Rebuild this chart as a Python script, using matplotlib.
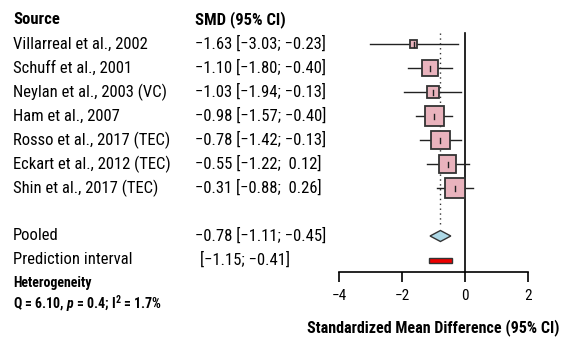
import matplotlib
matplotlib.use("Agg")
import matplotlib.pyplot as plt
from matplotlib.patches import Polygon, Rectangle
import numpy as np

FONT = ['Roboto Condensed', 'DejaVu Sans']
plt.rcParams['font.family'] = FONT
plt.rcParams['mathtext.fontset'] = 'custom'
plt.rcParams['mathtext.rm'] = 'Roboto Condensed:bold'
plt.rcParams['mathtext.it'] = 'Roboto Condensed:italic:bold'
plt.rcParams['mathtext.bf'] = 'Roboto Condensed:bold'

studies = ["Villarreal et al., 2002", "Schuff et al., 2001", "Neylan et al., 2003 (VC)",
           "Ham et al., 2007", "Rosso et al., 2017 (TEC)", "Eckart et al., 2012 (TEC)",
           "Shin et al., 2017 (TEC)"]
smd = [-1.63, -1.10, -1.03, -0.98, -0.78, -0.55, -0.31]
lower = [-3.03, -1.80, -1.94, -1.57, -1.42, -1.22, -0.88]
upper = [-0.23, -0.40, -0.13, -0.40, -0.13, 0.12, 0.26]
weights = [2.7, 14.0, 7.9, 19.8, 17.8, 15.9, 21.9]
pooled = (-0.78, -1.11, -0.45)
pred = (-1.15, -0.41)
xticks = [-4, -2, 0, 2]

W, H = 561, 339
fig = plt.figure(figsize=(W / 100, H / 100), dpi=100)
ax = fig.add_axes([0, 0, 1, 1])
# pixel mapping: x=-4 at 339px, x=2 at 528px ; row 1 at 44px, step 24px
sx = (528 - 339) / 6.0
x0 = -4 - 339 / sx
x1 = -4 + (W - 339) / sx
sy = 24.0
y_top = 1 - 44 / sy
y_bot = 1 + (H - 44) / sy
ax.set_xlim(x0, x1)
ax.set_ylim(y_bot, y_top)


def num(v):
    s = f"{abs(v):.2f}"
    return ("\u2212" + s) if v < 0 else (" " + s)


def ci(m, lo, hi):
    return f"{num(m)} [{num(lo)}; {num(hi)}]"


fs = 12
col1 = 13 / W
col2 = 195 / W
tr = ax.get_yaxis_transform()  # x axes-fraction, y data

ax.text(col1, 0.0, "Source", transform=tr, fontsize=fs, fontweight='bold', va='center')
ax.text(col2, 0.0, "SMD (95% CI)", transform=tr, fontsize=fs, fontweight='bold', va='center')

rows = np.arange(1, len(studies) + 1)
for r, name, m, lo, hi in zip(rows, studies, smd, lower, upper):
    ax.text(col1, r, name, transform=tr, fontsize=fs, va='center')
    ax.text(col2, r, ci(m, lo, hi), transform=tr, fontsize=fs, va='center')

# reference lines
ax.plot([0, 0], [0.55, 10.5], color='black', lw=1.2)
ax.plot([pooled[0]] * 2, [0.55, 8.6], color='#333333', lw=1.0, ls=(0, (1, 2.5)))

# CI lines and squares
side_px = [4.3 * np.sqrt(w) for w in weights]
for r, m, lo, hi, s in zip(rows, smd, lower, upper, side_px):
    ax.plot([lo, hi], [r, r], color='#222222', lw=1.0, zorder=2)
    wdx = s / sx
    wdy = s / sy
    ax.add_patch(Rectangle((m - wdx / 2, r - wdy / 2), wdx, wdy, facecolor='#E9B3BD',
                           edgecolor='#333333', lw=1.3, zorder=3))
    ax.plot([m, m], [r - 2.5 / sy, r + 2.5 / sy], color='#222222', lw=1.0, zorder=4)

# pooled diamond
pr = 9
dh = 5.5 / sy
ax.add_patch(Polygon([[pooled[1], pr], [pooled[0], pr - dh], [pooled[2], pr], [pooled[0], pr + dh]],
                     closed=True, facecolor='#ADD8E6', edgecolor='#333333', lw=1.0, zorder=3))
# prediction interval
ph = 5 / sy
ax.add_patch(Rectangle((pred[0], 10 - ph / 2), pred[1] - pred[0], ph, facecolor='#EE0000',
                       edgecolor='#333333', lw=1.0, zorder=3))

ax.text(col1, pr, "Pooled", transform=tr, fontsize=fs, va='center')
ax.text(col2, pr, ci(*pooled), transform=tr, fontsize=fs, va='center')
ax.text(col1, 10, "Prediction interval", transform=tr, fontsize=fs, va='center')
ax.text(200 / W, 10, f"[{num(pred[0])}; {num(pred[1])}]", transform=tr, fontsize=fs, va='center')
ax.text(col1, 10.95, "Heterogeneity", transform=tr, fontsize=10, fontweight='bold', va='center')
ax.text(col1, 11.8, r"Q = 6.10, $p$ = 0.4; I$^{2}$ = 1.7%", transform=tr,
        fontsize=10, fontweight='bold', va='center')

# x axis
for k in ['top', 'left', 'right']:
    ax.spines[k].set_visible(False)
ax.spines['bottom'].set_position(('data', 10.5))
ax.spines['bottom'].set_bounds(xticks[0], xticks[-1])
ax.spines['bottom'].set_linewidth(1.2)
ax.set_xticks(xticks)
ax.set_xticklabels([num(t).strip().replace(".00", "") for t in xticks])
ax.tick_params(axis='x', direction='out', length=7.5, width=1.2, labelsize=11, pad=5)
ax.set_yticks([])
ax.text((xticks[0] + xticks[-1]) / 2, 12.83, "Standardized Mean Difference (95% CI)",
        fontsize=11.5, fontweight='bold', ha='center', va='center')

fig.savefig("out.png", dpi=100)
